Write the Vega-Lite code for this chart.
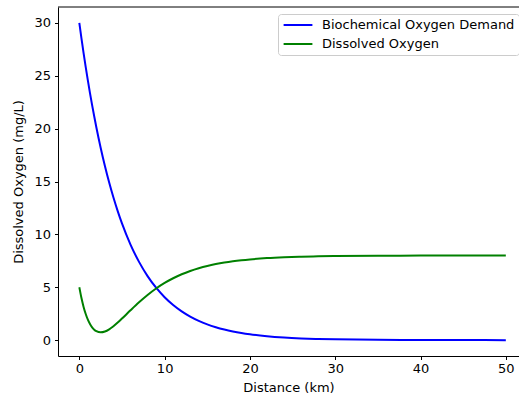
{
  "$schema": "https://vega.github.io/schema/vega-lite/v6.json",
  "autosize": {"type": "none"},
  "padding": {"left": 58, "top": 7, "right": 0, "bottom": 42},
  "width": 461,
  "height": 349,
  "background": "white",
  "data": {"values": [
    {"km": 0, "bod": 30.0, "do": 5.0},
    {"km": 0.25, "bod": 28.537, "do": 3.978},
    {"km": 0.5, "bod": 27.145, "do": 3.143},
    {"km": 0.75, "bod": 25.821, "do": 2.47},
    {"km": 1, "bod": 24.562, "do": 1.936},
    {"km": 1.25, "bod": 23.364, "do": 1.523},
    {"km": 1.5, "bod": 22.225, "do": 1.214},
    {"km": 1.75, "bod": 21.141, "do": 0.993},
    {"km": 2, "bod": 20.11, "do": 0.848},
    {"km": 2.5, "bod": 18.196, "do": 0.74},
    {"km": 3, "bod": 16.464, "do": 0.817},
    {"km": 3.5, "bod": 14.898, "do": 1.022},
    {"km": 4, "bod": 13.48, "do": 1.314},
    {"km": 4.5, "bod": 12.197, "do": 1.66},
    {"km": 5, "bod": 11.036, "do": 2.038},
    {"km": 6, "bod": 9.036, "do": 2.823},
    {"km": 7, "bod": 7.398, "do": 3.581},
    {"km": 8, "bod": 6.057, "do": 4.273},
    {"km": 9, "bod": 4.959, "do": 4.883},
    {"km": 10, "bod": 4.06, "do": 5.408},
    {"km": 11, "bod": 3.324, "do": 5.853},
    {"km": 12, "bod": 2.722, "do": 6.228},
    {"km": 13, "bod": 2.228, "do": 6.54},
    {"km": 14, "bod": 1.824, "do": 6.799},
    {"km": 15, "bod": 1.494, "do": 7.014},
    {"km": 16, "bod": 1.223, "do": 7.19},
    {"km": 17, "bod": 1.001, "do": 7.336},
    {"km": 18, "bod": 0.82, "do": 7.456},
    {"km": 19, "bod": 0.671, "do": 7.554},
    {"km": 20, "bod": 0.549, "do": 7.635},
    {"km": 22, "bod": 0.368, "do": 7.755},
    {"km": 24, "bod": 0.247, "do": 7.835},
    {"km": 26, "bod": 0.166, "do": 7.89},
    {"km": 28, "bod": 0.111, "do": 7.926},
    {"km": 30, "bod": 0.074, "do": 7.95},
    {"km": 35, "bod": 0.027, "do": 7.982},
    {"km": 40, "bod": 0.01, "do": 7.993},
    {"km": 45, "bod": 0.004, "do": 7.998},
    {"km": 50, "bod": 0.001, "do": 7.999}
  ]},
  "layer": [
    {
      "mark": {"type": "line", "strokeWidth": 2, "interpolate": "monotone"},
      "encoding": {
        "x": {
          "field": "km", "type": "quantitative",
          "scale": {"domain": [-2.5, 51.545], "nice": false, "zero": false},
          "axis": {"title": "Distance (km)", "values": [0, 10, 20, 30, 40, 50], "labelPadding": 3, "titlePadding": 6, "labelAngle": 0}
        },
        "y": {"field": "bod", "type": "quantitative",
          "scale": {"domain": [-1.5, 31.5], "nice": false, "zero": false},
          "axis": {"title": "Dissolved Oxygen (mg/L)", "values": [0, 5, 10, 15, 20, 25, 30], "labelPadding": 4, "titlePadding": 8}},
        "color": {"datum": "Biochemical Oxygen Demand", "type": "nominal",
          "scale": {"domain": ["Biochemical Oxygen Demand", "Dissolved Oxygen"], "range": ["#0000ff", "#008000"]},
          "legend": {"title": null}}
      }
    },
    {
      "mark": {"type": "line", "strokeWidth": 2, "interpolate": "monotone"},
      "encoding": {
        "x": {"field": "km", "type": "quantitative", "title": "Distance (km)"},
        "y": {"field": "do", "type": "quantitative", "title": "Dissolved Oxygen (mg/L)"},
        "color": {"datum": "Dissolved Oxygen", "type": "nominal"}
      }
    },
    {
      "data": {"values": [{}]},
      "mark": {"type": "rule", "color": "black", "strokeWidth": 1},
      "encoding": {"y": {"datum": 31.5, "type": "quantitative", "title": "Dissolved Oxygen (mg/L)"}}
    }
  ],
  "config": {
    "view": {"stroke": null},
    "font": "DejaVu Sans",
    "axis": {
      "grid": false,
      "domainColor": "black", "domainWidth": 1,
      "tickColor": "black", "tickWidth": 1, "tickSize": 3.5,
      "labelColor": "black", "titleColor": "black",
      "labelFont": "DejaVu Sans", "titleFont": "DejaVu Sans",
      "labelFontSize": 13, "titleFontSize": 13, "titleFontWeight": "normal"
    },
    "legend": {
      "orient": "none", "legendX": 220, "legendY": 7,
      "strokeColor": "#cccccc", "fillColor": "white", "cornerRadius": 3,
      "padding": 4, "symbolType": "M-2.4,0H2.4", "symbolSize": 144, "symbolStrokeWidth": 2,
      "symbolOffset": 9,
      "labelFont": "DejaVu Sans", "labelFontSize": 13, "labelColor": "black",
      "labelOffset": 17, "labelLimit": 400, "rowPadding": 5
    }
  }
}
